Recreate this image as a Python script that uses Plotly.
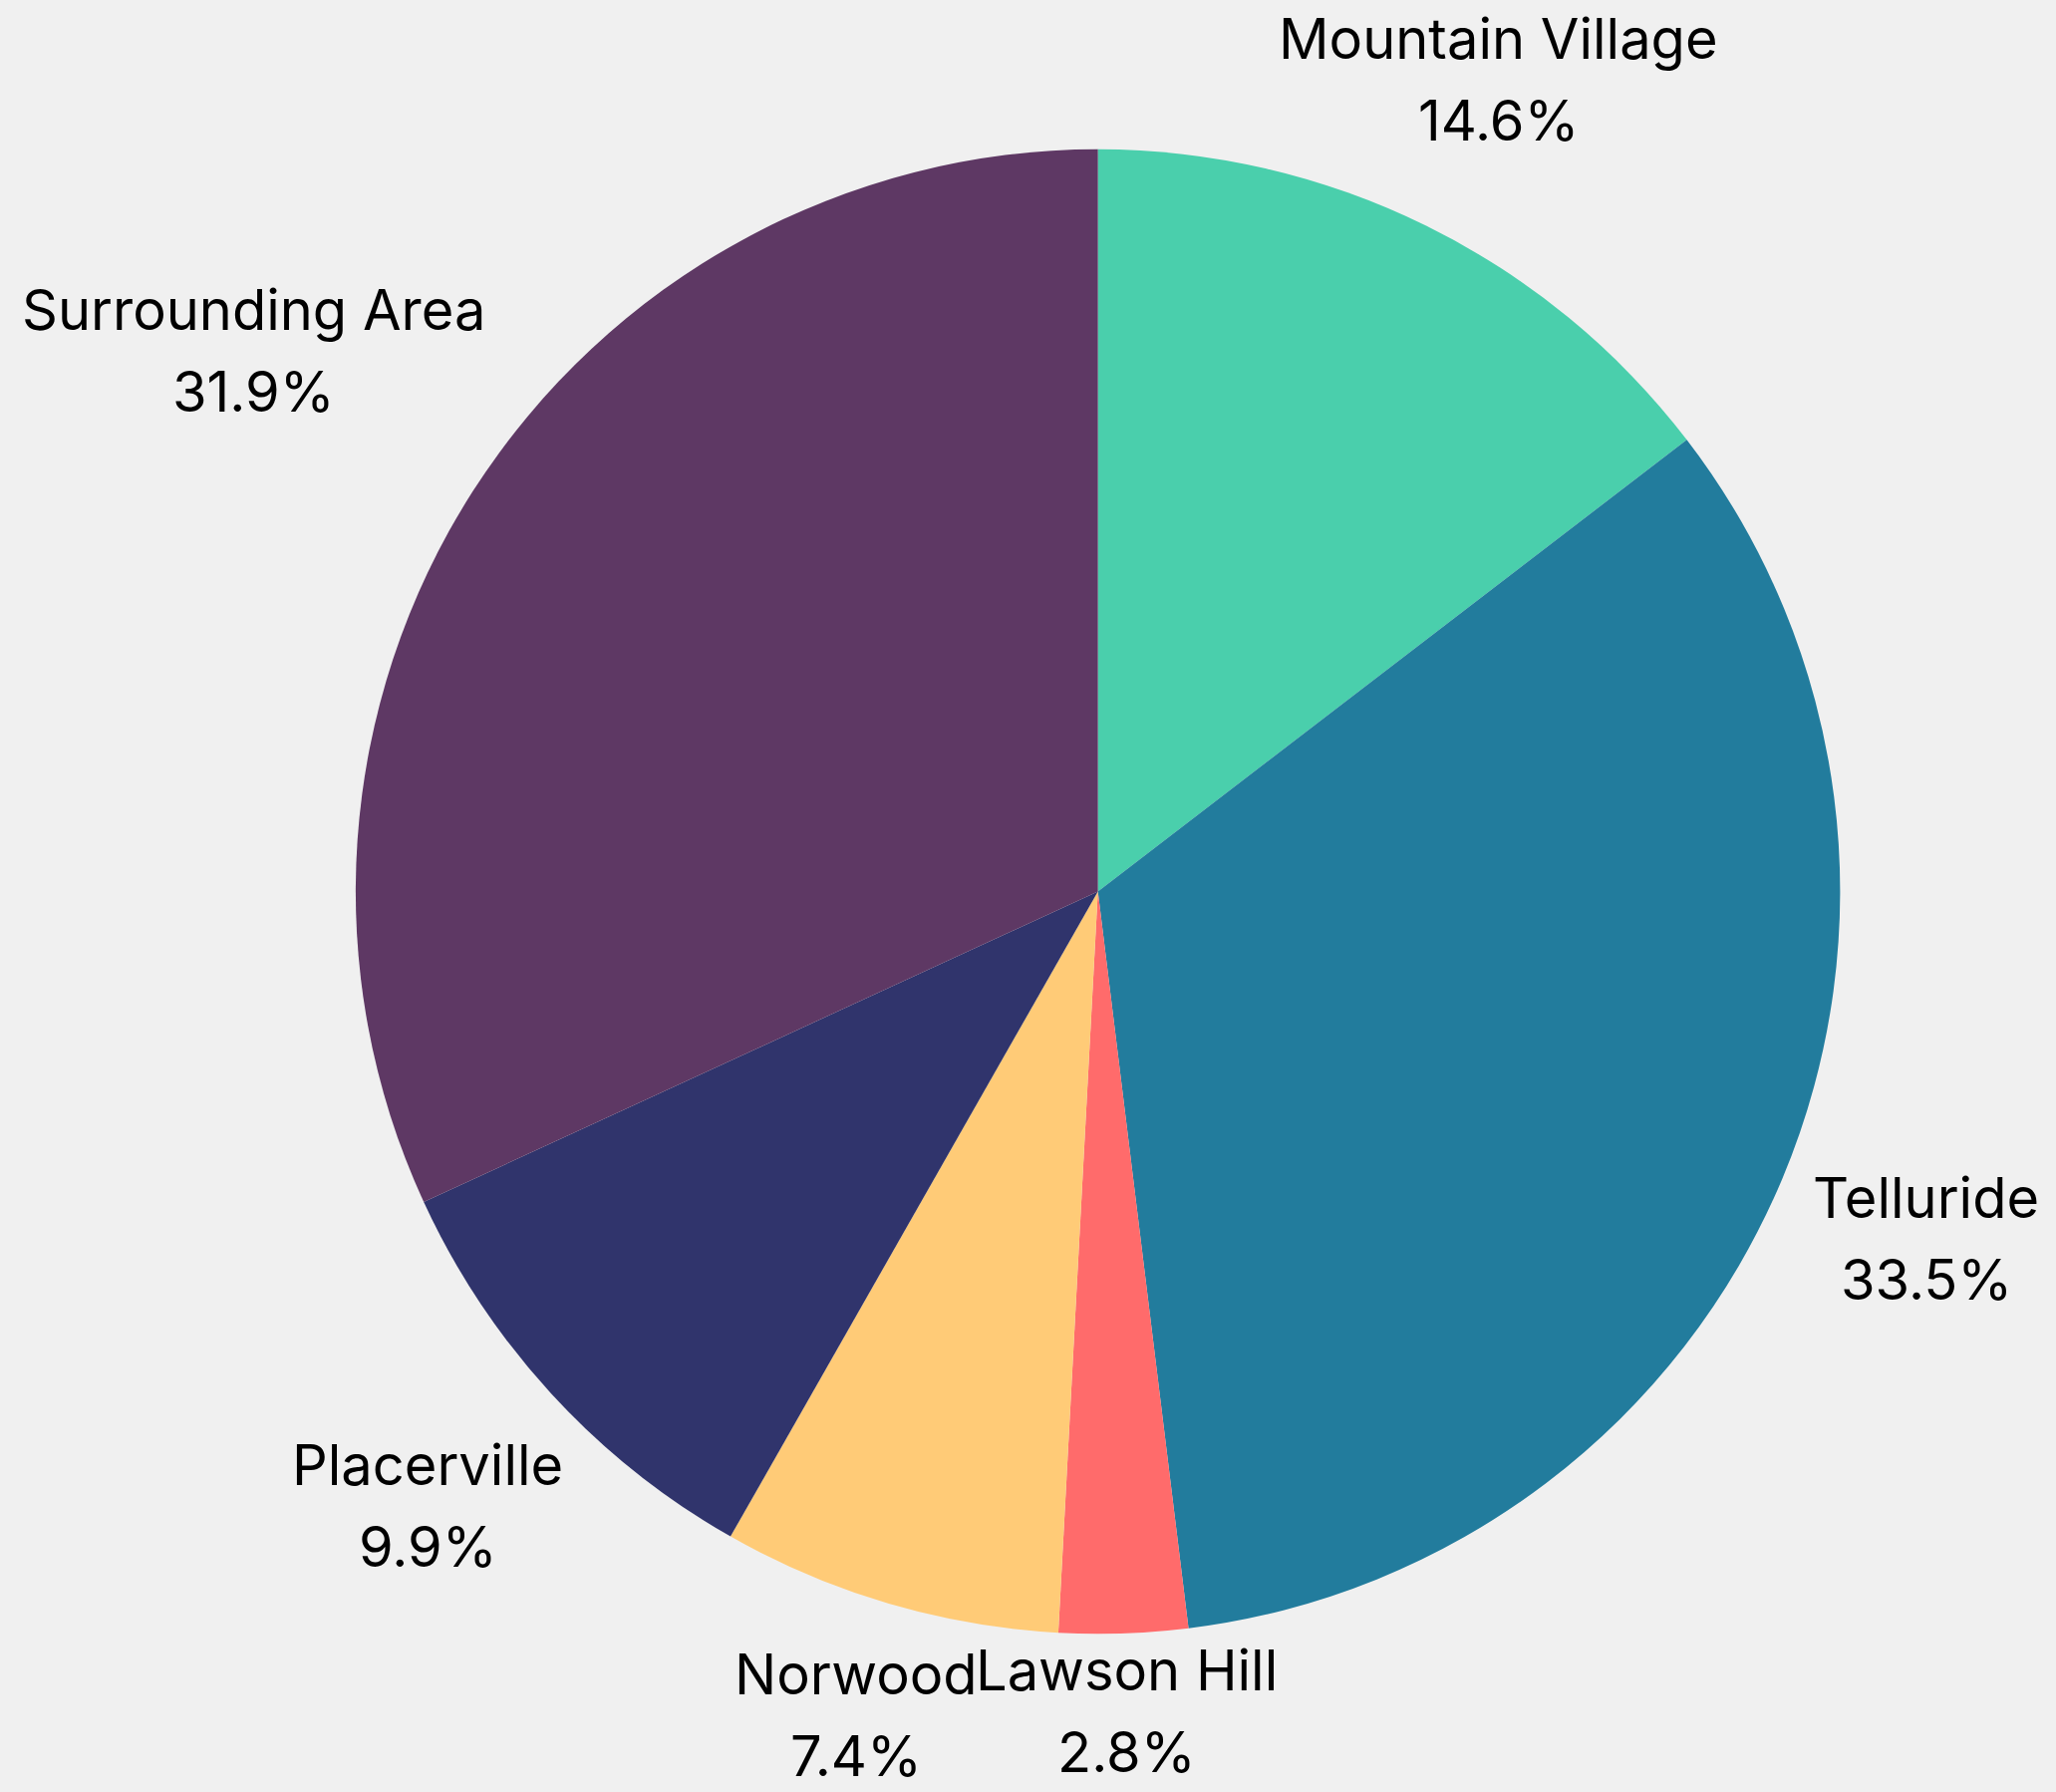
import math
import plotly.graph_objects as go

regions = ["Mountain Village", "Telluride", "Lawson Hill", "Norwood", "Placerville", "Surrounding Area"]
shares = [14.6, 33.5, 2.8, 7.4, 9.9, 31.9]
colors = ["#4ACFAC", "#227C9D", "#FF6B6B", "#FFCB77", "#30346C", "#5E3864"]
# radial distance of each label's centre, as a multiple of the pie radius
label_dist = [1.22, 1.21, 1.105, 1.156, 1.225, 1.35]

W, H = 2063, 1798
dom_x = [0.173, 0.895]
dom_y = [0.088, 0.917]

fig = go.Figure(go.Pie(
    labels=regions,
    values=shares,
    sort=False,
    direction="clockwise",
    rotation=0,
    marker=dict(colors=colors, line=dict(width=0)),
    textinfo="none",
    showlegend=False,
    automargin=False,
    domain=dict(x=dom_x, y=dom_y),
    hoverinfo="label+percent",
))

# pie geometry (pixels) derived from the domain, same as plotly uses
cx = (dom_x[0] + dom_x[1]) / 2 * W
cy = (1 - (dom_y[0] + dom_y[1]) / 2) * H
r = min((dom_x[1] - dom_x[0]) * W, (dom_y[1] - dom_y[0]) * H) / 2

total = sum(shares)
cum = 0.0
font = dict(size=56, color="black", family="Inter")
for name, v, d in zip(regions, shares, label_dist):
    mid = (cum + v / 2) / total * 2 * math.pi
    cum += v
    px = cx + d * r * math.sin(mid)
    py = cy - d * r * math.cos(mid)
    xp, yp = px / W, 1 - py / H
    pct = f"{v / total * 100:.1f}%"
    fig.add_annotation(x=xp, y=yp, xref="paper", yref="paper", text=name,
                       showarrow=False, xanchor="center", yanchor="middle",
                       yshift=41, font=font, borderpad=0)
    fig.add_annotation(x=xp, y=yp, xref="paper", yref="paper", text=pct,
                       showarrow=False, xanchor="center", yanchor="middle",
                       yshift=-41, font=font, borderpad=0)

fig.update_layout(
    width=W, height=H,
    margin=dict(l=0, r=0, t=0, b=0),
    paper_bgcolor="#F0F0F0",
    plot_bgcolor="#F0F0F0",
    font=dict(family="Inter"),
)

fig.write_html("out.html")
